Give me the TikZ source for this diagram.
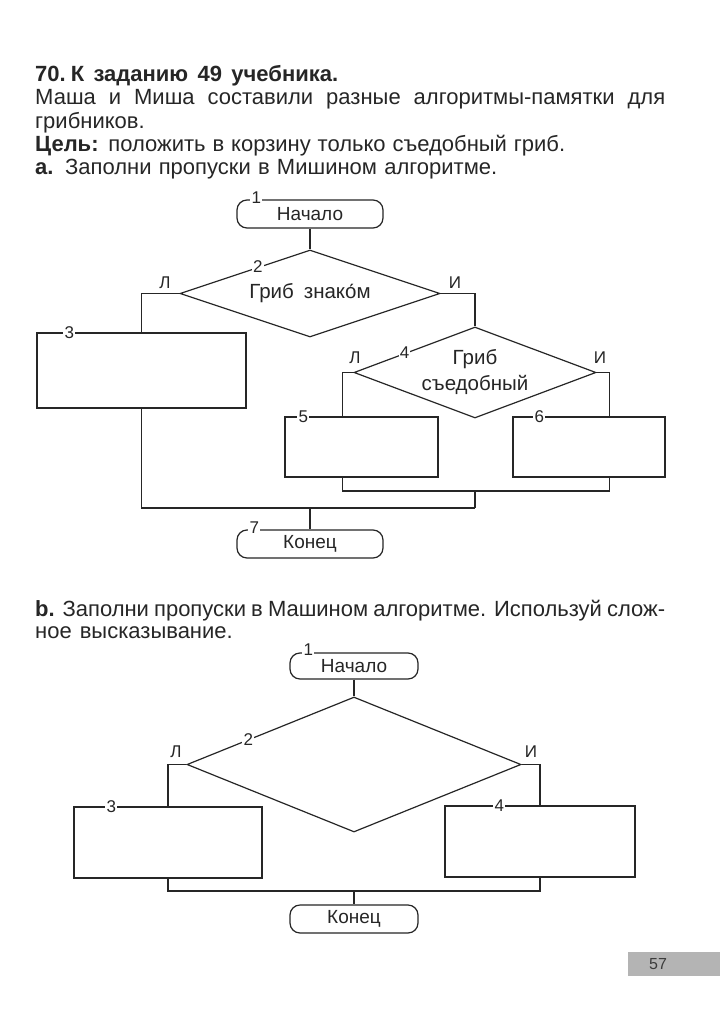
\documentclass[tikz,border=0pt]{standalone}
\usepackage{fontspec}
\setmainfont{Liberation Sans}
\usetikzlibrary{shapes.geometric,calc}
\definecolor{ink}{HTML}{262626}
\definecolor{pg}{HTML}{B4B4B4}
\newcommand\ftxt{\fontsize{19}{22}\selectfont}
\newcommand\fdec{\fontsize{20.5}{26}\selectfont}
\newcommand\fnum{\fontsize{17}{20}\selectfont}
\newcommand\fbody{\fontsize{22}{24}\selectfont}
\begin{document}
\begin{tikzpicture}[x=1pt,y=-1pt,
  conn/.style={draw=ink,line width=1.2pt},
  tbox/.style={draw=ink,line width=1.2pt,rounded corners=10pt,inner sep=0pt,font=\ftxt,text=ink},
  blk/.style={draw=ink,line width=1.2pt,inner sep=0pt},
  dec/.style={diamond,draw=ink,line width=1.2pt,inner sep=0pt,aspect=3,font=\fdec,text=ink,align=center},
  num/.style={fill=white,inner sep=1.2pt,font=\fnum,text=ink},
  lab/.style={font=\fnum,text=ink,inner sep=0pt},
  para/.style={anchor=base west,inner sep=0pt,font=\fbody,text=ink}]
\fill[white] (0,0) rectangle (720,1024);
\path[use as bounding box] (0,0) rectangle (720,1024);

% text
\node[para] (h1) at (35,81.7) {\makebox[303pt][s]{\bfseries 70.\hspace{5pt}К заданию 49 учебника.}};
\node[para] (p1) at (35,105) {\makebox[630pt][s]{Маша и Миша составили разные алгоритмы-памятки для}};
\node[para] (p2) at (35,128.3) {грибников.};
\node[para] (p3) at (35,151.6) {\makebox[530pt][s]{\textbf{Цель:} положить в корзину только съедобный гриб.}};
\node[para] (p4) at (35,175) {\makebox[462pt][s]{\textbf{a.} Заполни пропуски в Мишином алгоритме.}};
\node[para] (p5) at (35,616.7) {\makebox[630pt][s]{\textbf{b.} Заполни пропуски в Машином алгоритме. Используй слож-}};
\node[para] (p6) at (35,638.7) {ное\hspace{8pt}высказывание.};

% flowchart a
\node[tbox,minimum width=146pt,minimum height=28pt] (a1) at (310,214) {Начало};
\node[dec,minimum width=260pt,minimum height=87pt] (a2) at (310,293.5) {\raisebox{-3pt}{Гриб\hspace{10pt}знако́м}};
\node[blk,minimum width=209pt,minimum height=75pt] (a3) at (141.5,370.5) {};
\node[dec,minimum width=220pt,minimum height=91pt] (a4) at (475,372.5) {Гриб\\съедобный};
\node[blk,minimum width=153pt,minimum height=60pt] (a5) at (361.5,447) {};
\node[blk,minimum width=152pt,minimum height=60pt] (a6) at (589,447) {};
\node[tbox,minimum width=146pt,minimum height=28pt] (a7) at (310,544) {Конец};
\coordinate (a56) at (475,491);
\coordinate (am) at (310,508);
\draw[conn] (a1.south) -- (a2.north);
\draw[conn] (a2.west) -| (a3.north);
\draw[conn] (a2.east) -| (a4.north);
\draw[conn] (a4.west) -| ([xshift=58pt]a5.north west);
\draw[conn] (a4.east) -| ([xshift=97pt]a6.north west);
\draw[conn] ([xshift=58pt]a5.south west) |- (a56) -| ([xshift=97pt]a6.south west);
\draw[conn] (a56) -- (a56 |- am);
\draw[conn] (a3.south) |- (a56 |- am);
\draw[conn] (am) -- (a7.north);
\node[num] (n1) at ([xshift=20pt,yshift=2pt]a1.north west) {1};
\node[num] (n2) at ($(a2.west)!0.6!(a2.north)$) {2};
\node[num] (n3) at ([xshift=33pt]a3.north west) {3};
\node[num] (n4) at ($(a4.west)!0.42!(a4.north)$) {4};
\node[num] (n5) at ([xshift=19pt]a5.north west) {5};
\node[num] (n6) at ([xshift=27pt]a6.north west) {6};
\node[num] (n7) at ([xshift=18pt,yshift=2pt]a7.north west) {7};
\node[lab] (l1) at (165,283) {Л};
\node[lab] (i1) at (455,283) {И};
\node[lab] (l2) at (355,358) {Л};
\node[lab] (i2) at (600,358) {И};

% flowchart b
\node[tbox,minimum width=128pt,minimum height=26pt] (b1) at (354,666) {Начало};
\node[dec,minimum width=334pt,minimum height=135pt] (b2) at (354,764.5) {};
\node[blk,minimum width=188pt,minimum height=71pt] (b3) at (168,842.5) {};
\node[blk,minimum width=190pt,minimum height=71pt] (b4) at (540,841.5) {};
\node[tbox,minimum width=128pt,minimum height=28pt] (b5) at (354,919) {Конец};
\coordinate (bm) at (354,891);
\draw[conn] (b1.south) -- (b2.north);
\draw[conn] (b2.west) -| (b3.north);
\draw[conn] (b2.east) -| (b4.north);
\draw[conn] (b3.south) |- (bm) -| (b4.south);
\draw[conn] (bm) -- (b5.north);
\node[num] (m1) at ([xshift=19pt,yshift=3pt]b1.north west) {1};
\node[num] (m2) at ($(b2.west)!0.37!(b2.north)$) {2};
\node[num] (m3) at ([xshift=38pt]b3.north west) {3};
\node[num] (m4) at ([xshift=55pt]b4.north west) {4};
\node[lab] (l3) at (176,752) {Л};
\node[lab] (i3) at (531,752) {И};

% page number
\fill[pg] (628,952) rectangle (720,976);
\node[font=\fontsize{16}{18}\selectfont,text=ink!90,inner sep=0pt] (pn) at (658,964) {57};
\end{tikzpicture}
\end{document}
